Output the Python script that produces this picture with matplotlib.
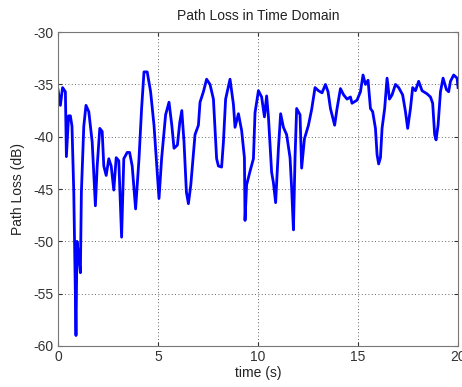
import matplotlib
matplotlib.use('Agg')
import matplotlib.pyplot as plt

plt.rcParams['font.family'] = ['Liberation Sans', 'DejaVu Sans']
plt.rcParams['axes.unicode_minus'] = False

# sampled path loss trace
time_s = [0.0, 0.12, 0.23, 0.37, 0.42, 0.53, 0.62, 0.7, 0.79, 0.84, 0.9, 0.95,
          1.04, 1.12, 1.17, 1.29, 1.4, 1.54, 1.71, 1.87, 1.96, 2.09, 2.21, 2.29,
          2.41, 2.54, 2.66, 2.79, 2.91, 3.04, 3.18, 3.29, 3.46, 3.58, 3.71, 3.88,
          4.05, 4.18, 4.3, 4.46, 4.63, 4.8, 4.97, 5.05, 5.18, 5.38, 5.55, 5.69,
          5.8, 5.97, 6.09, 6.19, 6.3, 6.42, 6.52, 6.64, 6.85, 7.02, 7.1, 7.27,
          7.43, 7.6, 7.77, 7.93, 8.02, 8.18, 8.27, 8.38, 8.6, 8.77, 8.85, 9.02,
          9.18, 9.32, 9.35, 9.43, 9.6, 9.77, 9.85, 10.02, 10.18, 10.32, 10.43,
          10.52, 10.68, 10.77, 10.88, 11.02, 11.13, 11.27, 11.43, 11.6, 11.68,
          11.77, 11.85, 11.93, 12.1, 12.18, 12.32, 12.52, 12.68, 12.85, 13.02,
          13.2, 13.37, 13.5, 13.62, 13.83, 13.95, 14.12, 14.28, 14.45, 14.62,
          14.7, 14.95, 15.12, 15.25, 15.37, 15.5, 15.62, 15.73, 15.87, 15.95,
          16.03, 16.12, 16.2, 16.33, 16.45, 16.57, 16.7, 16.87, 17.03, 17.23,
          17.37, 17.48, 17.62, 17.73, 17.87, 18.03, 18.2, 18.45, 18.62, 18.73,
          18.83, 18.9, 19.0, 19.12, 19.25, 19.42, 19.53, 19.62, 19.78, 19.95, 20.0]
path_loss_db = [-35.5, -37.0, -35.3, -35.7, -41.9, -38.0, -38.0, -39.0, -45.3, -51.3, -59.0, -50.0,
                -51.5, -53.0, -45.3, -39.0, -37.0, -37.6, -40.5, -46.6, -42.8, -39.2, -39.5, -42.8,
                -43.7, -42.1, -42.8, -45.1, -42.0, -42.3, -49.6, -42.1, -41.5, -41.5, -42.8, -46.9,
                -42.1, -37.3, -33.8, -33.8, -35.7, -38.9, -43.7, -45.9, -42.1, -37.9, -36.7, -38.9,
                -41.1, -40.8, -38.6, -37.5, -40.5, -45.3, -46.4, -44.6, -39.8, -38.9, -36.7, -35.7,
                -34.5, -35.0, -36.4, -42.1, -42.8, -42.9, -40.5, -36.4, -34.5, -36.9, -39.1, -37.8,
                -39.4, -42.0, -48.0, -44.6, -43.3, -42.1, -37.7, -35.6, -36.2, -38.1, -36.1,
                -38.1, -43.4, -44.4, -46.3, -41.1, -37.8, -39.1, -39.8, -42.0, -44.9,
                -48.9, -42.0, -37.3, -37.9, -43.0, -40.2, -38.9, -37.4, -35.3, -35.6,
                -35.8, -35.0, -35.7, -37.3, -38.9, -37.3, -35.4, -36.0, -36.4, -36.2,
                -36.8, -36.5, -35.7, -34.1, -35.0, -34.6, -37.3, -37.6, -39.2, -41.7,
                -42.6, -42.0, -39.2, -37.3, -34.4, -36.4, -36.0, -35.0, -35.3, -36.0,
                -37.6, -39.2, -37.3, -35.3, -35.6, -34.7, -35.6, -35.9, -36.2, -36.8,
                -39.8, -40.3, -38.9, -35.7, -34.4, -35.5, -35.7, -34.7, -34.1, -34.4, -35.3]

fig = plt.figure(figsize=(4.62, 3.87), dpi=100)
ax = fig.add_axes([0.1255, 0.106, 0.866, 0.811])

ax.plot(time_s, path_loss_db, color='#0000ff', linewidth=2.0)

ax.set_xlim(0, 20)
ax.set_ylim(-60, -30)
ax.set_xticks([0, 5, 10, 15, 20])
ax.set_yticks([-60, -55, -50, -45, -40, -35, -30])
ax.grid(True, linestyle=(0, (1, 3)), color='#333333', linewidth=0.6)

ax.tick_params(direction='in', length=3, labelsize=10, colors='#333333',
               top=True, right=True, pad=3)
for spine in ax.spines.values():
    spine.set_color('#777777')
    spine.set_linewidth(0.8)

ax.set_title('Path Loss in Time Domain', fontsize=10, color='#222222', pad=9)
ax.set_xlabel('time (s)', fontsize=10, color='#222222', labelpad=1)
ax.set_ylabel('Path Loss (dB)', fontsize=10, color='#222222', labelpad=6)

fig.savefig('out.png', dpi=100)
